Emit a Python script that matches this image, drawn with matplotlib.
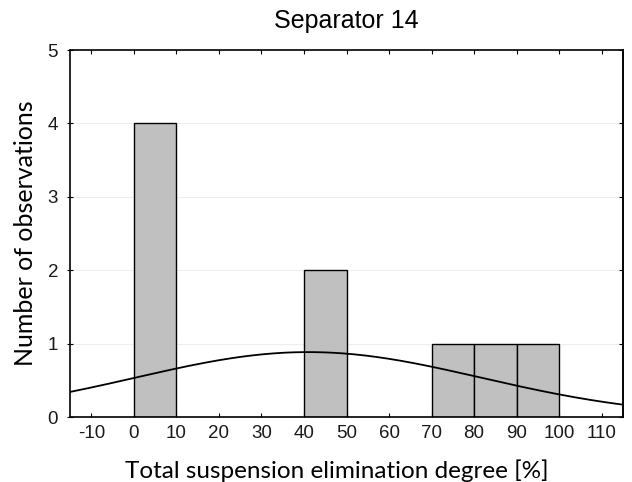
import numpy as np
import matplotlib
matplotlib.use("Agg")
import matplotlib.pyplot as plt

# Histogram data
bin_left = [0, 40, 70, 80, 90]
counts = [4, 2, 1, 1, 1]
bin_width = 10
n_obs = 9

# Fitted normal curve parameters
fit_mean = 41.0
fit_sd = 40.6

xticks = [-10, 0, 10, 20, 30, 40, 50, 60, 70, 80, 90, 100, 110]
yticks = [0, 1, 2, 3, 4, 5]

fig = plt.figure(figsize=(6.32, 4.82), dpi=100)
ax = fig.add_axes([70/632, 1-417/482, (623-70)/632, (417-50)/482])

for y in yticks[1:-1]:
    ax.axhline(y, color="#eeeeee", lw=0.8, zorder=0)

ax.bar(bin_left, counts, width=bin_width, align="edge", color="#c0c0c0",
       edgecolor="black", linewidth=1.0, zorder=2)

xs = np.linspace(-15, 115, 400)
ys = n_obs * bin_width / (fit_sd * np.sqrt(2 * np.pi)) * np.exp(-0.5 * ((xs - fit_mean) / fit_sd) ** 2)
ax.plot(xs, ys, color="black", lw=1.3, zorder=3)

ax.set_xlim(-15, 115)
ax.set_ylim(0, 5)
ax.set_xticks(xticks)
ax.set_yticks(yticks)
for s in ax.spines.values():
    s.set_linewidth(1.2)

tickfont = {"family": "Liberation Sans", "size": 13.5}
ax.set_xticklabels([str(v) for v in xticks], **tickfont)
ax.set_yticklabels([str(v) for v in yticks], **tickfont)
ax.tick_params(axis="x", direction="in", top=True, length=3, pad=6, labelcolor="#1a1a1a")
ax.tick_params(axis="y", direction="inout", length=5, pad=6, labelcolor="#1a1a1a")

ax2 = ax.secondary_yaxis("right")
ax2.set_yticks(yticks)
ax2.tick_params(direction="in", length=3, labelright=False)
ax2.spines["right"].set_linewidth(1.2)

ax.set_title("Separator 14", family="Liberation Sans", fontsize=18, pad=16)
ax.set_xlabel("Total suspension elimination degree [%]", family="Lato", fontsize=17.5)
ax.xaxis.set_label_coords(0.482, -0.115)
ax.set_ylabel("Number of observations", family="Lato", fontsize=18, labelpad=8)

fig.savefig("out.png", dpi=100)
